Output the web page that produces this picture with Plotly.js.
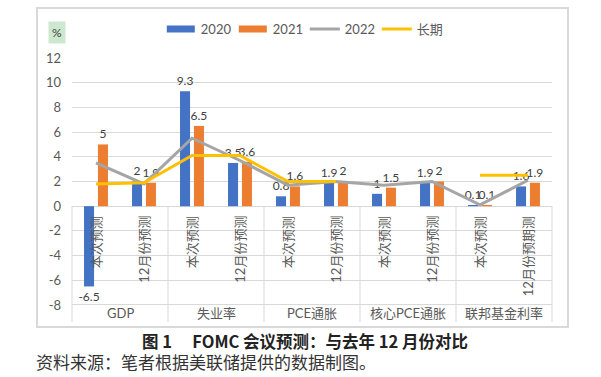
<!DOCTYPE html>
<html><head><meta charset="utf-8">
<script src="https://cdn.plot.ly/plotly-3.0.1.min.js"></script>
<style>body{margin:0;background:#fff}#chart{width:601px;height:377px}</style>
</head><body><div id="chart"></div>
<script>
const groups = ['GDP', '失业率', 'PCE通胀', '核心PCE通胀', '联邦基金利率'];
const subLabels = ['本次预测', '12月份预测', '本次预测', '12月份预测', '本次预测', '12月份预测', '本次预测', '12月份预测', '本次预测', '12月份预期测'];
const v2020 = [-6.5, 2, 9.3, 3.5, 0.8, 1.9, 1, 1.9, 0.1, 1.6];
const v2021 = [5, 1.9, 6.5, 3.6, 1.6, 2, 1.5, 2, 0.1, 1.9];
const v2022 = [3.5, 1.8, 5.5, 3.7, 1.7, 2, 1.7, 2, 0.1, 2.1];
const vLong = [1.8, 1.9, 4.1, 4.1, 2, 2, null, null, 2.5, 2.5];
const seriesNames = ['2020', '2021', '2022', '长期'];
const yTicks = [-8, -6, -4, -2, 0, 2, 4, 6, 8, 10, 12];
const yUnit = '%';
const caption = '图 1 　FOMC 会议预测：与去年 12 月份对比';
const source = '资料来源：笔者根据美联储提供的数据制图。';

const FONT = 'Lato, "Noto Sans CJK SC", sans-serif';
const GREY = '#595959';
const xs = subLabels.map((_, i) => i);
const yMin = -9.38, yMax = 12;

const barTrace = (vals, name, color) => ({
  type: 'bar', x: xs, y: vals, name: name,
  marker: {color: color, line: {width: 0}},
  text: vals.map(String), textposition: 'outside', constraintext: 'none', cliponaxis: false,
  textfont: {family: FONT, size: 12, color: '#404040'}, hoverinfo: 'skip'
});
const lineTrace = (vals, name, color) => ({
  type: 'scatter', mode: 'lines', x: xs, y: vals, name: name,
  line: {color: color, width: 3}, connectgaps: false, hoverinfo: 'skip'
});

const traces = [
  barTrace(v2020, seriesNames[0], '#4472C4'),
  barTrace(v2021, seriesNames[1], '#ED7D31'),
  lineTrace(v2022, seriesNames[2], '#A5A5A5'),
  lineTrace(vLong, seriesNames[3], '#FFC000')
];

const shapes = [];
for (let k = 0; k <= groups.length; k++) {
  const edge = (k === 0 || k === groups.length);
  shapes.push({type: 'line', xref: edge ? 'paper' : 'x', yref: 'y',
    x0: edge ? k / groups.length : 2 * k - 0.5, x1: edge ? k / groups.length : 2 * k - 0.5,
    y0: 0, y1: yMin, line: {color: '#d9d9d9', width: 1}});
}
shapes.push({type: 'rect', xref: 'paper', yref: 'paper', x0: -0.0729, x1: 1.0333, y0: -0.0189, y1: 1.189,
  line: {color: '#d9d9d9', width: 2}, layer: 'below'});

const annotations = [];
subLabels.forEach((s, i) => annotations.push({
  x: i, y: 0, xref: 'x', yref: 'y', text: s, showarrow: false, textangle: -90,
  xanchor: 'center', yanchor: 'top', yshift: -8, font: {family: FONT, size: 13, color: GREY}
}));
groups.forEach((g, j) => annotations.push({
  x: 2 * j + 0.5, y: (-8 + yMin) / 2, xref: 'x', yref: 'y', text: g, showarrow: false,
  xanchor: 'center', yanchor: 'middle', font: {family: FONT, size: 13, color: GREY}
}));
annotations.push({x: -0.031, y: 1.095, xref: 'paper', yref: 'paper', text: yUnit, showarrow: false,
  xanchor: 'center', yanchor: 'middle',
  bgcolor: '#cde8cf', borderpad: 3, font: {family: FONT, size: 12, color: '#404040'}});
annotations.push({x: 0.485, y: -0.072, xref: 'paper', yref: 'paper', text: '<b>' + caption + '</b>', showarrow: false,
  xanchor: 'center', yanchor: 'middle', font: {family: '"Noto Sans CJK SC", sans-serif', size: 16.5, color: '#222'}});
annotations.push({x: -0.079, y: -0.148, xref: 'paper', yref: 'paper', text: source, showarrow: false,
  xanchor: 'left', yanchor: 'middle', font: {family: '"Noto Sans CJK SC", sans-serif', size: 17, color: '#333'}});

const layout = {
  width: 601, height: 377,
  margin: {l: 72, r: 49, t: 58, b: 55},
  paper_bgcolor: '#fff', plot_bgcolor: '#fff',
  font: {family: FONT, color: GREY, size: 13},
  barmode: 'group', bargap: 0.42, bargroupgap: 0.28,
  showlegend: true,
  legend: {orientation: 'h', x: 0.185, y: 1.11, xanchor: 'left', yanchor: 'middle',
    font: {family: FONT, size: 13, color: GREY}, bgcolor: 'rgba(0,0,0,0)', itemwidth: 30,
    entrywidth: 27, entrywidthmode: 'pixels', traceorder: 'normal'},
  xaxis: {range: [-0.5, 9.5], showticklabels: false, showgrid: false, zeroline: false, showline: false, fixedrange: true},
  yaxis: {range: [yMin, yMax], tickvals: yTicks, ticktext: yTicks.map(String), showgrid: true, gridcolor: '#d9d9d9',
    gridwidth: 1, zeroline: false, showline: false, ticks: '', ticklabelstandoff: 10,
    tickfont: {family: FONT, size: 13, color: GREY}, fixedrange: true},
  shapes: shapes, annotations: annotations
};

Plotly.newPlot('chart', traces, layout, {displayModeBar: false, staticPlot: true}).then(gd => {
  gd.querySelectorAll('.legend .traces .legendpoints path').forEach(p => {
    if (p.classList.contains('legendundefined') || p.getAttribute('d') === 'M6,6H-6V-6H6Z') {
      p.setAttribute('d', 'M-14,-3.5H14V3.5H-14Z');
    }
  });
});
</script>
</body></html>
